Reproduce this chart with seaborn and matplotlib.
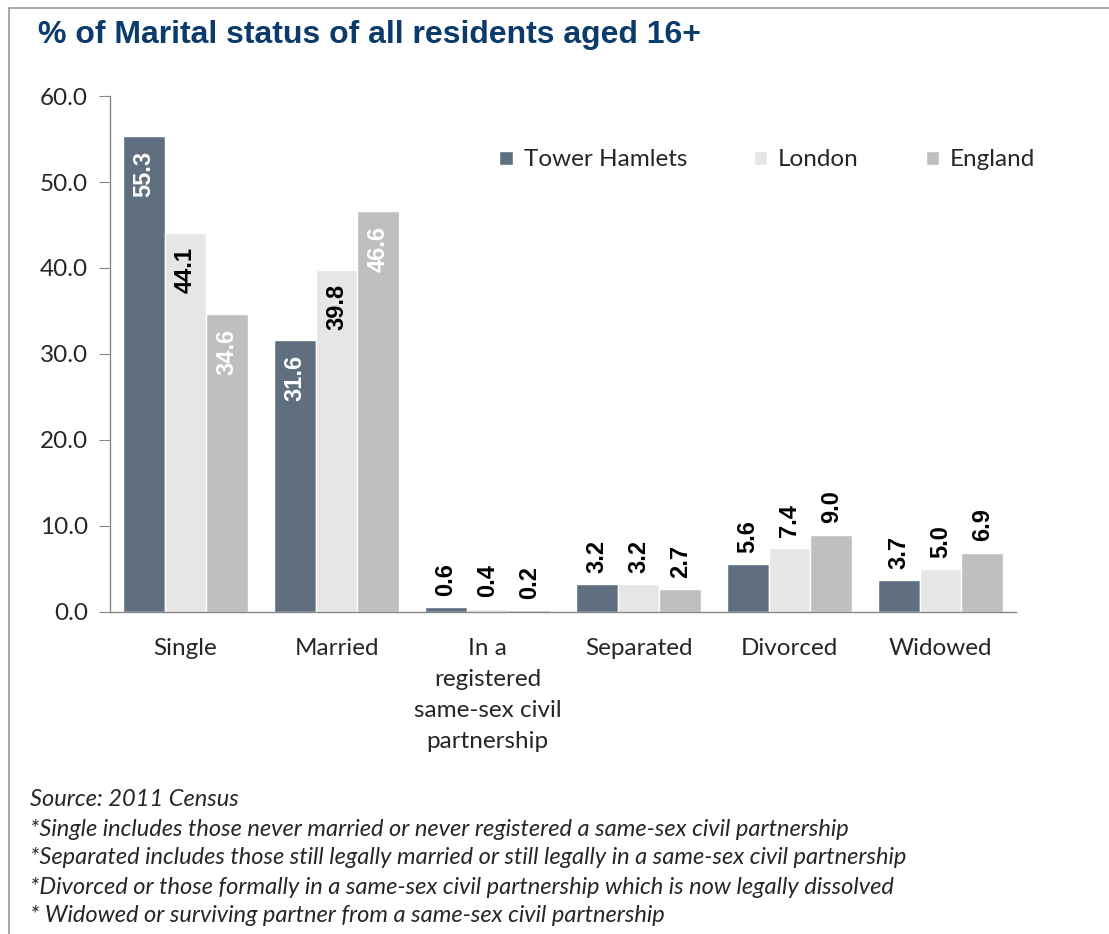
import pandas as pd
import matplotlib.pyplot as plt
import seaborn as sns
from matplotlib.patches import Rectangle

# Data (2011 Census)
categories = ["Single", "Married", "In a\nregistered\nsame-sex civil\npartnership",
              "Separated", "Divorced", "Widowed"]
areas = ["Tower Hamlets", "London", "England"]
tower_hamlets = [55.3, 31.6, 0.6, 3.2, 5.6, 3.7]
london = [44.1, 39.8, 0.4, 3.2, 7.4, 5.0]
england = [34.6, 46.6, 0.2, 2.7, 9.0, 6.9]
colors = ["#5F6F80", "#E6E6E6", "#BFBFBF"]
label_colors = ["white", "black", "white"]

footnotes = [
    "Source: 2011 Census",
    "*Single includes those never married or never registered a same-sex civil partnership",
    "*Separated includes those still legally married or still legally in a same-sex civil partnership",
    "*Divorced or those formally in a same-sex civil partnership which is now legally dissolved",
    "* Widowed or surviving partner from a same-sex civil partnership",
]

df = pd.DataFrame({
    "status": categories * 3,
    "area": [a for a in areas for _ in categories],
    "value": tower_hamlets + london + england,
})

sns.set_style("white")
plt.rcParams["font.family"] = ["Lato", "DejaVu Sans"]

fig = plt.figure(figsize=(11.09, 9.34), dpi=100)
ax = fig.add_axes([0.0992, 0.3448, 0.8170, 0.5524])

sns.barplot(data=df, x="status", y="value", hue="area", palette=colors,
            width=0.83, saturation=1, ax=ax, errorbar=None)

# value labels: inside the top of tall bars, above short bars
bold_font = ["Liberation Sans", "DejaVu Sans"]
for i, cont in enumerate(ax.containers):
    for bar in cont:
        v = bar.get_height()
        xc = bar.get_x() + bar.get_width() / 2
        if v > 20:
            ax.text(xc, v - 1.7, f"{v:.1f}", rotation=90, ha="center", va="top",
                    fontsize=17, fontweight="bold", color=label_colors[i],
                    family=bold_font)
        else:
            ax.text(xc, v + 1.3, f"{v:.1f}", rotation=90, ha="center", va="bottom",
                    fontsize=17, fontweight="bold", color="black",
                    family=bold_font)

ax.set_ylim(0, 60)
ax.set_yticks(range(0, 61, 10))
ax.set_yticklabels([f"{t:.1f}" for t in range(0, 61, 10)], fontsize=17.5)
ax.set_xlim(-0.5, len(categories) - 0.5)
ax.set_xticks(range(len(categories)))
ax.set_xticklabels(categories, fontsize=17.5, linespacing=1.58)
ax.set_xticks([k - 0.5 for k in range(len(categories) + 1)], minor=True)
ax.tick_params(axis="x", which="major", length=0, pad=19)
ax.tick_params(axis="x", which="minor", length=8, color="#888888", direction="out")
ax.tick_params(axis="y", length=8, color="#888888", direction="out", left=True, pad=8)
ax.set_xlabel("")
ax.set_ylabel("")

for side in ["top", "right"]:
    ax.spines[side].set_visible(False)
for side in ["left", "bottom"]:
    ax.spines[side].set_color("#888888")
    ax.spines[side].set_linewidth(1.0)

ax.legend(ncol=3, loc="center right", bbox_to_anchor=(1045 / 1109, 1 - 160 / 934),
          bbox_transform=fig.transFigure, borderaxespad=0, frameon=False,
          fontsize=17.5, handlelength=0.55, handleheight=0.55, handletextpad=0.45,
          columnspacing=2.75)

fig.text(0.034, 0.962, "% of Marital status of all residents aged 16+",
         fontsize=23, fontweight="bold", color="#0B3B6A",
         family=["Liberation Sans", "DejaVu Sans"], va="center")

for k, line in enumerate(footnotes):
    fig.text(0.027, 1 - (800 + 29 * k) / 934, line, fontsize=17, style="italic",
             va="center")

fig.patches.append(Rectangle((9 / 1109, -0.01), 1.1, 1 - 8 / 934 + 0.01,
                             transform=fig.transFigure, fill=False,
                             edgecolor="#999999", linewidth=1.2))

fig.savefig("out.png", dpi=100)
